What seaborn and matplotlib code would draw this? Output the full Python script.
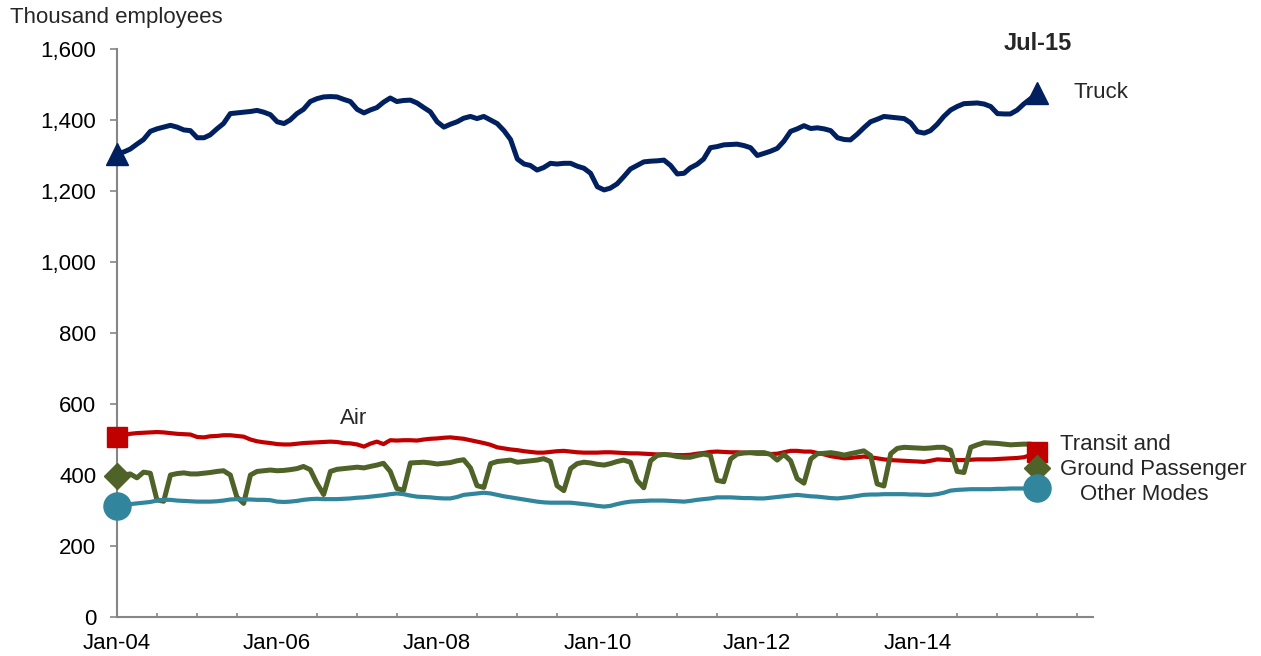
#!/usr/bin/env python3
"""Transportation employment by mode, Jan-04 to Jul-15 (thousand employees)."""
import matplotlib
matplotlib.use("Agg")
import matplotlib.pyplot as plt
import matplotlib.dates as mdates
import matplotlib.ticker as mticker
import pandas as pd
import seaborn as sns

MONTHS = pd.date_range("2004-01-01", "2015-07-01", freq="MS")
LABEL_YEARS = [2004, 2006, 2008, 2010, 2012, 2014]

# one row per year, Jan..Dec (2015 runs to Jul)
TRUCK = [
    1305, 1310, 1318, 1332, 1345, 1368, 1375, 1380, 1385, 1380, 1372, 1370,
    1350, 1350, 1358, 1375, 1390, 1418, 1420, 1422, 1424, 1427, 1422, 1415,
    1395, 1390, 1400, 1418, 1430, 1452, 1460, 1465, 1466, 1465, 1458, 1452,
    1430, 1420, 1428, 1435, 1450, 1462, 1452, 1455, 1456, 1448, 1435, 1423,
    1395, 1380, 1388, 1395, 1405, 1410, 1404, 1410, 1400, 1390, 1370, 1345,
    1290, 1276, 1272, 1259, 1266, 1278, 1276, 1278, 1278, 1270, 1264, 1250,
    1212, 1203, 1208, 1220, 1240, 1262, 1272, 1282, 1284, 1285, 1287, 1272,
    1248, 1250, 1265, 1275, 1290, 1322, 1325, 1330, 1331, 1332, 1328, 1322,
    1300, 1306, 1312, 1320, 1340, 1368, 1375, 1384, 1376, 1378, 1375, 1370,
    1350, 1345, 1344, 1360, 1378, 1395, 1402, 1410, 1408, 1406, 1404, 1392,
    1367, 1363, 1370, 1388, 1410, 1428, 1438, 1446, 1447, 1448, 1445, 1438,
    1418, 1417, 1417, 1428, 1445, 1460, 1475,
]
AIR = [
    508, 512, 516, 518, 519, 520, 521, 520, 518, 516, 515, 514,
    507, 506, 509, 510, 512, 512, 510, 508, 500, 495, 492, 490,
    487, 486, 486, 488, 490, 491, 492, 493, 494, 493, 490, 489,
    486, 480, 488, 494, 487, 498, 497, 498, 498, 497, 500, 502,
    503, 505, 506, 504, 502, 498, 494, 490, 485, 478, 475, 472,
    470, 467, 465, 463, 463, 465, 467, 468, 466, 464, 463, 463,
    463, 464, 464, 463, 462, 461, 461, 460, 459, 458, 458, 457,
    456, 456, 457, 460, 462, 465, 466, 465, 464, 464, 463, 462,
    460, 460, 459, 460, 464, 468, 468, 466, 466, 462, 458, 453,
    450, 447, 448, 450, 452, 450, 447, 444, 442, 441, 440, 439,
    438, 437, 440, 444, 443, 442, 442, 442, 443, 444, 444, 444,
    445, 446, 447, 448, 450, 456, 466,
]
TRANSIT = [
    397, 400, 403, 392, 408, 405, 330, 326, 400, 404, 406, 403,
    403, 405, 407, 410, 412, 400, 338, 320, 400, 410, 412, 414,
    412, 413, 415, 418, 424, 415, 377, 345, 410, 416, 418, 420,
    422, 420, 424, 428, 433, 410, 362, 357, 434, 435, 436, 434,
    431, 433, 435, 440, 443, 420, 370, 365, 432, 438, 440, 442,
    436, 438, 440, 442, 446, 438, 370, 356, 418, 432, 436, 434,
    430, 428, 432, 438, 442, 436, 385, 364, 440, 455, 458, 456,
    452, 450, 450, 455, 459, 455, 385, 381, 445, 459, 462, 463,
    463, 463, 458, 442, 458, 440, 390, 377, 445, 460, 461, 463,
    460, 456, 460, 464, 468, 455, 375, 369, 460, 475, 478, 477,
    476, 475, 476, 478, 478, 470, 410, 407, 478, 485, 491, 490,
    489, 487, 485, 486, 487, 487, 419,
]
OTHER = [
    312, 315, 318, 320, 322, 324, 328, 330, 330, 328, 327, 326,
    325, 325, 325, 326, 328, 331, 332, 331, 331, 330, 330, 329,
    325, 324, 325, 327, 330, 332, 333, 332, 332, 332, 333, 334,
    336, 337, 339, 341, 343, 346, 348, 346, 342, 339, 338, 337,
    335, 334, 334, 338, 344, 346, 348, 350, 348, 344, 340, 337,
    334, 331, 328, 325, 323, 322, 322, 322, 322, 320, 318, 316,
    313, 311, 313, 318, 322, 325, 326, 327, 328, 328, 328, 327,
    326, 325, 327, 330, 332, 334, 337, 337, 337, 336, 335, 335,
    334, 334, 336, 338, 340, 342, 344, 342, 340, 339, 337, 335,
    334, 336, 338, 341, 344, 345, 345, 346, 346, 346, 346, 345,
    345, 344, 344, 346, 350, 356, 358, 359, 360, 360, 360, 360,
    361, 361, 362, 362, 362, 362, 362,
]

SERIES = ["Truck", "Air", "Transit", "Other"]
COLORS = {"Truck": "#002060", "Air": "#C00000", "Transit": "#4F6228", "Other": "#31859C"}
WIDTHS = {"Truck": 3.6, "Air": 3.0, "Transit": 3.6, "Other": 3.0}
MARKERS = {"Truck": ("^", 16), "Air": ("s", 14.5), "Transit": ("D", 13.5), "Other": ("o", 19.5)}

df = pd.DataFrame({
    "month": list(MONTHS) * 4,
    "series": sum([[s] * len(MONTHS) for s in SERIES], []),
    "value": TRUCK + AIR + TRANSIT + OTHER,
})

sns.set_theme(style="white")
plt.rcParams["font.family"] = ["Liberation Sans", "DejaVu Sans"]

fig = plt.figure(figsize=(12.61, 6.56), dpi=100)
ax = fig.add_axes([117 / 1261, 1 - 617 / 656, (1093 - 117) / 1261, (617 - 49) / 656])

for s in SERIES:
    sub = df[df["series"] == s]
    sns.lineplot(data=sub, x="month", y="value", color=COLORS[s],
                 linewidth=WIDTHS[s], ax=ax, legend=False)

# end-point markers (first and last month of each series)
for s in SERIES:
    sub = df[df["series"] == s].iloc[[0, -1]]
    m, ms = MARKERS[s]
    ax.plot(sub["month"], sub["value"], linestyle="none", marker=m,
            markersize=ms, color=COLORS[s], clip_on=False, zorder=5)

ax.set_xlim(pd.Timestamp("2004-01-01"), pd.Timestamp("2016-03-12"))
ax.set_ylim(0, 1600)
ax.set_xlabel("")
ax.set_ylabel("")

major_dates = [mdates.date2num(pd.Timestamp(f"{y}-01-01")) for y in LABEL_YEARS]
ax.xaxis.set_major_locator(mticker.FixedLocator(major_dates))
ax.xaxis.set_minor_locator(mdates.MonthLocator(bymonth=[1, 7]))
ax.xaxis.set_major_formatter(mdates.DateFormatter("%b-%y"))
ax.yaxis.set_major_locator(mticker.MultipleLocator(200))
ax.yaxis.set_major_formatter(mticker.FuncFormatter(lambda v, _: f"{v:,.0f}"))

axis_gray = "#868686"
for side in ["top", "right"]:
    ax.spines[side].set_visible(False)
for side in ["left", "bottom"]:
    ax.spines[side].set_color(axis_gray)
    ax.spines[side].set_linewidth(1.5)

ax.tick_params(axis="x", which="major", direction="inout", length=7.5, width=1.2,
               color=axis_gray, labelsize=16, labelcolor="black", pad=8)
ax.tick_params(axis="x", which="minor", direction="in", length=3, width=1.2,
               color=axis_gray, bottom=True)
ax.tick_params(axis="y", which="major", direction="out", length=5, width=1.2,
               color=axis_gray, labelsize=16, labelcolor="black", pad=10, left=True)

fig.text(10 / 1261, 1 - 18 / 656, "Thousand employees", fontsize=16, va="center", ha="left")
fig.text(1038 / 1261, 1 - 44 / 656, "Jul-15", fontsize=17, fontweight="bold",
         va="center", ha="center")
fig.text(1074 / 1261, 1 - 93 / 656, "Truck", fontsize=16, va="center", ha="left")
fig.text(340 / 1261, 1 - 418 / 656, "Air", fontsize=16, va="center", ha="left")
fig.text(1060 / 1261, 1 - 445 / 656, "Transit and", fontsize=16, va="center", ha="left")
fig.text(1060 / 1261, 1 - 470 / 656, "Ground Passenger", fontsize=16, va="center", ha="left")
fig.text(1080 / 1261, 1 - 495 / 656, "Other Modes", fontsize=16, va="center", ha="left")

fig.savefig("out.png", dpi=100)
print("Saved -> out.png")
